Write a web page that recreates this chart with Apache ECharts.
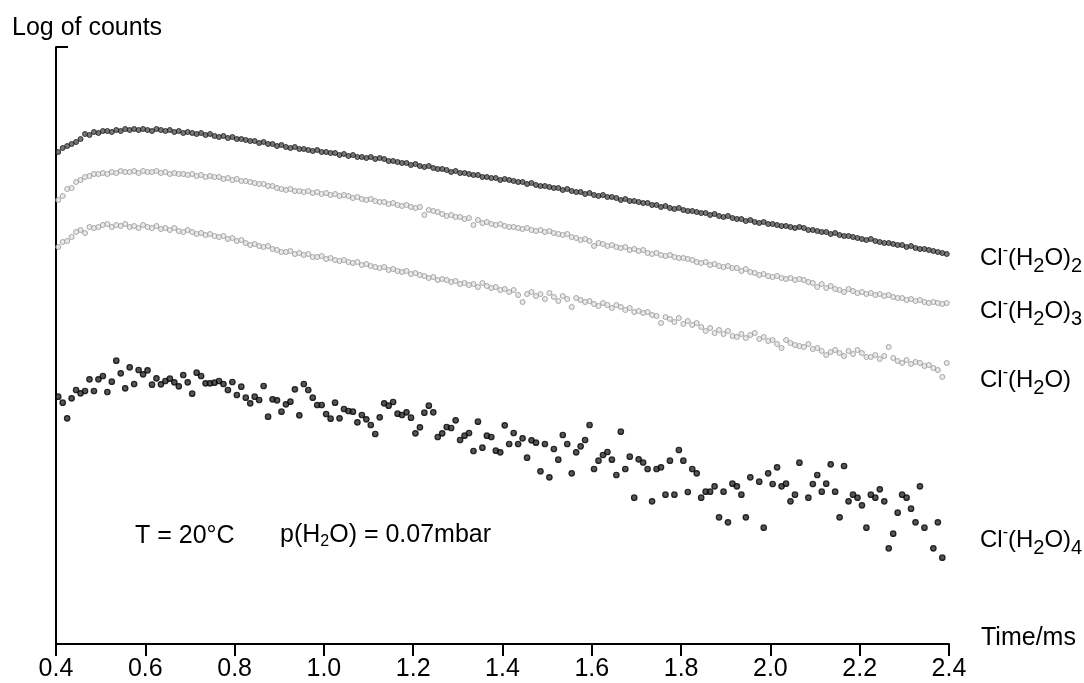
<!DOCTYPE html>
<html><head><meta charset="utf-8">
<script src="https://cdn.jsdelivr.net/npm/echarts@6/dist/echarts.min.js"></script>
<style>html,body{margin:0;padding:0;background:#fff}#c{width:1084px;height:683px}</style>
</head><body><div id="c"></div>
<script>
// Sampling times (ms): first point and step
const timeStart = 0.405;
const timeStep = 0.01;
const xTickLabels = ['0.4','0.6','0.8','1.0','1.2','1.4','1.6','1.8','2.0','2.2','2.4'];

// Log of counts, arbitrary units
const clH2O2 = [
492,496,498,500,502,505,510,509,512,511,
513,513,512,514,513,515,514,515,514,515,
514,513,515,514,513,514,512,513,511,512,
511,510,511,509,510,508,507,508,506,507,
505,505,504,503,503,501,502,500,500,498,
499,497,496,497,495,495,494,493,494,492,
492,491,491,489,490,488,489,487,487,486,
487,485,486,485,483,483,482,481,481,479,
480,478,477,478,476,475,475,474,472,473,
471,471,470,469,469,467,467,466,466,464,
465,464,463,462,462,460,461,459,458,458,
457,456,456,454,455,453,452,452,450,451,
449,448,449,447,447,446,444,445,443,443,
442,441,441,439,439,437,438,436,435,436,
434,433,433,432,431,431,429,430,428,427,
428,426,425,425,423,424,422,421,422,420,
420,419,418,418,417,416,417,416,414,414,
413,412,412,410,411,409,408,408,407,406,
405,404,405,403,402,401,401,400,399,399,
397,398,396,395,395,394,393,392,391,390];

const clH2O3 = [
444,448,455,456,462,464,467,468,470,470,
471,470,472,471,473,472,472,473,471,473,
472,472,473,471,472,470,471,470,470,469,
470,468,469,467,468,467,467,465,466,464,
465,463,463,462,461,460,460,458,458,456,
455,454,455,453,453,452,453,451,452,450,
451,449,450,448,449,448,446,447,445,444,
445,443,442,442,440,441,439,438,439,437,
436,437,429,434,433,432,430,428,429,427,
427,425,426,419,424,421,422,420,419,420,
418,417,417,416,415,416,414,413,414,412,
413,411,410,409,410,407,406,404,405,403,
398,401,400,398,399,397,396,397,394,395,
393,394,391,390,391,389,388,389,387,386,
386,385,384,382,381,382,379,380,378,377,
378,376,376,373,375,372,371,369,370,368,
367,368,366,365,366,364,365,364,362,361,
357,360,356,358,355,354,352,355,353,351,
352,350,351,349,350,348,349,347,346,346,
344,345,343,344,342,341,342,341,340,341];

const clH2O1 = [
397,402,403,407,412,414,411,417,416,417,
419,420,417,419,418,420,417,418,416,419,
417,416,418,415,416,414,416,413,412,414,
412,410,411,409,410,408,407,408,405,406,
403,404,401,399,400,398,397,398,395,394,
392,392,393,390,391,389,390,387,387,388,
385,386,384,383,384,382,381,382,379,380,
378,377,376,377,374,375,373,372,373,370,
371,369,368,366,367,364,365,364,362,363,
360,361,359,360,357,361,358,356,357,354,
355,352,354,349,342,350,352,348,350,345,
351,347,343,348,345,337,346,344,342,343,
340,338,341,339,336,339,337,334,336,332,
333,331,332,329,328,321,327,325,322,326,
320,323,319,321,317,313,316,311,314,310,
313,308,307,310,306,309,311,305,307,303,
304,300,296,304,301,299,298,297,300,295,
296,293,289,292,294,291,288,293,290,294,
291,287,287,289,285,288,297,286,283,281,
284,280,282,281,278,279,276,274,267,281];

const clH2O4 = [
247.3,241.3,225.7,245.7,254,250.7,253,264.7,253,264.7,
268,252,262.3,283.3,270.7,255.7,276.7,260,274,269.7,
273.7,259.3,265.7,259.7,263,265.3,261.7,257.7,269,261.7,
250.3,271.3,268,260.7,260.7,261.3,263,260,254,262,
249,257.3,246.3,240.7,247.3,244,258,227.3,244.7,243.7,
232.3,239.7,242.3,254.7,228.7,260,254,246.3,239,239,
230,225.3,241.3,225.7,235,233,232.3,221.7,229,224.7,
219,210,226.7,240.7,238.3,242,230.3,229,231.7,226.3,
210.7,216.7,231.3,238.3,231.7,207,210.7,217,216,223.7,
204,208.3,211,193,222.3,196.3,208.3,207,193.3,191.7,
218.7,200,211,200,205.7,186.3,203.7,201.3,172.7,200,
166.7,195,184.3,209,200,170.7,191.7,197.7,204,219,
175,183.3,189,192,184.3,169,212.3,175,187.3,146.3,
184.7,181.5,175,142.7,175,176.7,149.3,183.3,149.3,194,
183.3,152,175,170.7,146.3,152.3,152.3,157.7,126.7,152.3,
121.7,160.3,157.7,149.3,126.7,166.7,null,162.3,116.3,170.7,
160,176.7,157.7,160.3,142.7,149.3,181.3,null,146.3,160,
169,152.3,160.3,179.7,152.3,126.7,178,142.7,149.3,146.3,
138.7,116.3,149.3,146.3,154.7,142.7,95.7,110.3,131.3,149.3,
146.3,135.3,121.7,157.7,116.3,null,95.7,121.7,86.3];

const yMin = 0, yMax = 597;

function pairs(arr) {
  const out = [];
  arr.forEach((v, i) => {
    if (v !== null) out.push([+(timeStart + timeStep * i).toFixed(3), v]);
  });
  return out;
}

const FONT = "'Liberation Sans', Arial, Helvetica, sans-serif";
const FS = 25;
const richLabel = {
  n: { fontSize: 24, fontFamily: FONT, color: '#000', lineHeight: 36, verticalAlign: 'middle' },
  sup: { fontSize: 16, fontFamily: FONT, color: '#000', lineHeight: 16, verticalAlign: 'top', padding: [3, 0, 0, 0] },
  sub: { fontSize: 20, fontFamily: FONT, color: '#000', lineHeight: 20, verticalAlign: 'bottom' },
  m: { fontSize: FS, fontFamily: FONT, color: '#000', lineHeight: 36, verticalAlign: 'middle' },
  ssub: { fontSize: 16, fontFamily: FONT, color: '#000', lineHeight: 16, verticalAlign: 'bottom', padding: [0, 0, 4, 0] }
};

function txt(x, y, text) {
  return { type: 'text', left: x, top: y, style: { text: text, rich: richLabel, verticalAlign: 'middle', font: FS + 'px ' + FONT, fill: '#000' } };
}

const chart = echarts.init(document.getElementById('c'), null, { renderer: 'canvas' });
chart.setOption({
  animation: false,
  backgroundColor: '#fff',
  grid: { left: 56, right: 135, top: 47, bottom: 39, containLabel: false },
  xAxis: {
    type: 'value', min: 0.4, max: 2.4, interval: 0.2,
    axisLine: { lineStyle: { color: '#000', width: 2 } },
    axisTick: { show: true, length: 12, lineStyle: { color: '#000', width: 2 } },
    axisLabel: { fontSize: FS, fontFamily: FONT, color: '#000', margin: 13,
      formatter: (v) => xTickLabels[Math.round((v - 0.4) / 0.2)] },
    splitLine: { show: false }
  },
  yAxis: {
    type: 'value', min: yMin, max: yMax, interval: yMax,
    axisLine: { show: true, lineStyle: { color: '#000', width: 2 } },
    axisTick: { show: true, inside: true, length: 12, lineStyle: { color: '#000', width: 2 } },
    axisLabel: { show: false },
    splitLine: { show: false }
  },
  series: [
    { name: 'Cl-(H2O)4', type: 'scatter', data: pairs(clH2O4), symbol: 'circle', symbolSize: 5.5,
      itemStyle: { color: '#2a2a2a', borderColor: '#000', borderWidth: 1.2 } },
    { name: 'Cl-(H2O)', type: 'scatter', data: pairs(clH2O1), symbol: 'circle', symbolSize: 5,
      itemStyle: { color: '#e4e4e4', borderColor: '#959595', borderWidth: 1 } },
    { name: 'Cl-(H2O)3', type: 'scatter', data: pairs(clH2O3), symbol: 'circle', symbolSize: 5,
      itemStyle: { color: '#e4e4e4', borderColor: '#959595', borderWidth: 1 } },
    { name: 'Cl-(H2O)2', type: 'scatter', data: pairs(clH2O2), symbol: 'circle', symbolSize: 5,
      itemStyle: { color: '#555', borderColor: '#1a1a1a', borderWidth: 1 } }
  ],
  graphic: [
    { type: 'text', left: 12, top: 16, style: { text: 'Log of counts', font: FS + 'px ' + FONT, fill: '#000' } },
    { type: 'text', left: 981, top: 626, style: { text: 'Time/ms', font: FS + 'px ' + FONT, fill: '#000' } },
    txt(980, 240, '{n|Cl}{sup|-}{n|(H}{sub|2}{n|O)}{sub|2}'),
    txt(980, 293, '{n|Cl}{sup|-}{n|(H}{sub|2}{n|O)}{sub|3}'),
    txt(980, 362, '{n|Cl}{sup|-}{n|(H}{sub|2}{n|O)}'),
    txt(980, 522, '{n|Cl}{sup|-}{n|(H}{sub|2}{n|O)}{sub|4}'),
    { type: 'text', left: 135, top: 524, style: { text: 'T = 20°C', font: FS + 'px ' + FONT, fill: '#000' } },
    txt(280, 523, '{m|p(H}{ssub|2}{m|O) = 0.07mbar}')
  ]
});
</script>
</body></html>
